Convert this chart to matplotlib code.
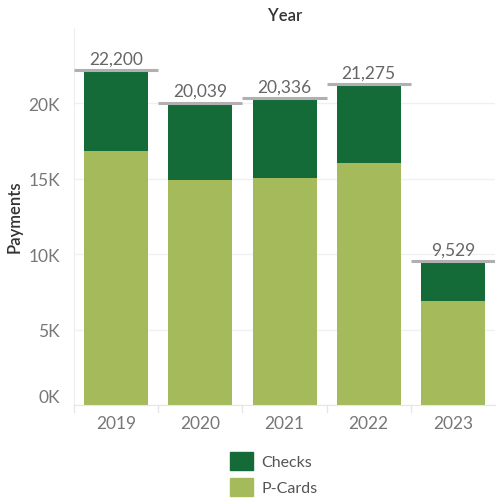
import matplotlib
matplotlib.use("Agg")
import matplotlib.pyplot as plt
import matplotlib.transforms as mtransforms
from matplotlib.ticker import FuncFormatter
from matplotlib.patches import Patch

years = ["2019", "2020", "2021", "2022", "2023"]
pcards = [16820, 14940, 15070, 16070, 6900]
totals = [22200, 20039, 20336, 21275, 9529]
checks = [t - p for t, p in zip(totals, pcards)]

plt.rcParams['font.family'] = ['Lato', 'DejaVu Sans']

fig = plt.figure(figsize=(4.96, 5.02), dpi=100)
ax = fig.add_axes([74/496, 1 - 406/502, 1 - 74/496 - 0.002, (406 - 29)/502])

c_checks = "#156b38"
c_pcards = "#a5bb5b"
x = list(range(len(years)))
ax.bar(x, pcards, width=0.76, color=c_pcards, zorder=2)
ax.bar(x, checks, width=0.76, bottom=pcards, color=c_checks, zorder=2)

for i, t in enumerate(totals):
    ax.hlines(t, i - 0.5, i + 0.5, color="#b0b0b0", lw=2.2, zorder=3)
    ax.text(i, t + 250, f"{t:,}", ha="center", va="bottom", fontsize=12.5, color="#666666", zorder=4)

ax.set_xlim(-0.5, 4.5)
ax.set_ylim(0, 25000)
ax.set_yticks([0, 5000, 10000, 15000, 20000])
ax.yaxis.set_major_formatter(FuncFormatter(lambda v, p: f"{int(v/1000)}K"))
ax.set_xticks(x)
ax.set_xticklabels(years)
ax.tick_params(axis="both", length=0, labelsize=12.5, labelcolor="#777777")
ax.tick_params(axis="x", pad=7)
ax.tick_params(axis="y", pad=10)
# Tableau nudges the bottom label up
lab0 = ax.get_yticklabels()[0]
lab0.set_transform(lab0.get_transform() + mtransforms.ScaledTranslation(0, 9/100, fig.dpi_scale_trans))
ax.grid(axis="y", color="#f0f0f0", lw=1, zorder=0)
for s in ["top", "right"]:
    ax.spines[s].set_visible(False)
ax.spines["left"].set_color("#eeeeee")
ax.spines["bottom"].set_color("#e6e6e6")
for b in [-0.5, 0.5, 1.5, 2.5, 3.5]:
    ax.plot([b, b], [0, -0.018], transform=ax.get_xaxis_transform(), color="#e6e6e6", lw=1, clip_on=False)

fig.text(15/496, 1 - 217/502, "Payments", rotation=90, ha="center", va="center", fontsize=12,
         color="#333333", fontweight="semibold")
fig.text(285/496, 1 - 16/502, "Year", ha="center", va="center", fontsize=12, color="#333333", fontweight="semibold")

handles = [Patch(color=c_checks, label="Checks"), Patch(color=c_pcards, label="P-Cards")]
fig.legend(handles=handles, loc="center left", bbox_to_anchor=(216/496, 1 - 475/502), frameon=False,
           fontsize=11.5, handlelength=1.4, handleheight=1.4, handletextpad=0.55, labelspacing=0.45,
           labelcolor="#555555")

fig.savefig("out.png", dpi=100)
